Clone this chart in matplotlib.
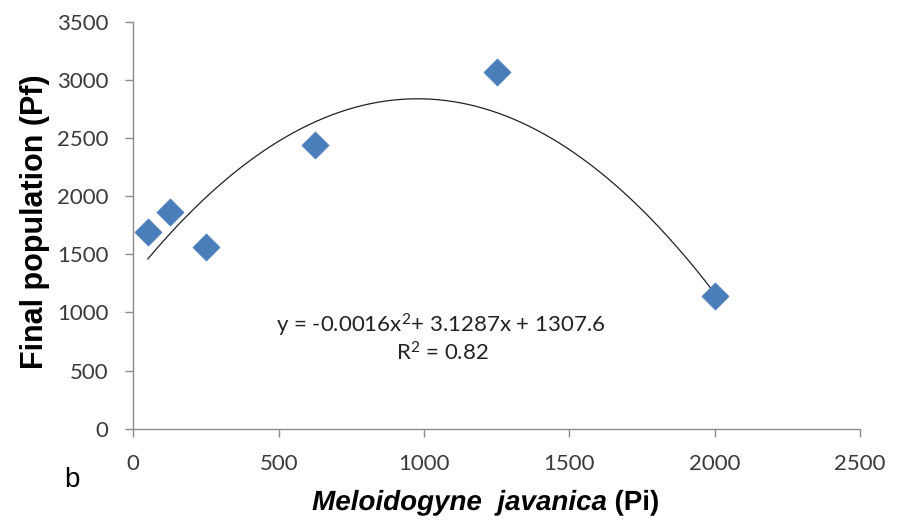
import numpy as np
import matplotlib.pyplot as plt
from matplotlib.font_manager import FontProperties
from matplotlib.textpath import TextPath
from matplotlib.patches import PathPatch
from matplotlib.transforms import Affine2D

plt.rcParams['mathtext.fontset'] = 'custom'
plt.rcParams['mathtext.rm'] = 'Lato'
plt.rcParams['mathtext.it'] = 'Lato:italic'

# Initial inoculum (Pi) and final population (Pf)
pi_values = [50, 125, 250, 625, 1250, 2000]
pf_values = [1690, 1860, 1560, 2440, 3070, 1140]

# Quadratic trend: y = a*x^2 + b*x + c
coef_a, coef_b, coef_c = -0.0016, 3.1287, 1307.6
r_squared = 0.82

x_ticks = [0, 500, 1000, 1500, 2000, 2500]
y_ticks = [0, 500, 1000, 1500, 2000, 2500, 3000, 3500]

W, H = 898, 525
fig = plt.figure(figsize=(W / 100, H / 100), dpi=100)
ax = fig.add_axes([133.3 / W, 1 - 428.7 / H, 726.7 / W, 407 / H])

xs = np.linspace(min(pi_values), max(pi_values), 300)
ax.plot(xs, coef_a * xs**2 + coef_b * xs + coef_c, color='#222222', lw=0.9, zorder=2)
ax.scatter(pi_values, pf_values, marker='D', s=190, color='#4a7ebb',
           edgecolors='#4a7ebb', linewidths=0.5, zorder=3)

ax.set_xlim(0, 2500)
ax.set_ylim(0, 3500)
ax.set_xticks(x_ticks)
ax.set_yticks(y_ticks)

for side in ('top', 'right'):
    ax.spines[side].set_visible(False)
for side in ('left', 'bottom'):
    ax.spines[side].set_color('#8c8c8c')
    ax.spines[side].set_linewidth(1.0)
ax.tick_params(axis='both', colors='#8c8c8c', length=6, width=1.0,
               labelcolor='#3a3a3a', labelsize=16, direction='out')
for lbl in ax.get_xticklabels() + ax.get_yticklabels():
    lbl.set_family('Lato')
ax.tick_params(axis='x', pad=12)
ax.tick_params(axis='y', pad=12)

# y-axis title
fig.text(35 / W, 1 - 222 / H, 'Final population (Pf)', rotation=90,
         ha='center', va='center', family='Liberation Sans', fontweight='bold',
         fontsize=22, color='black')

# x-axis title: italic species name followed by upright "(Pi)"
size_pt = 20
p_it = FontProperties(family='Liberation Sans', weight='bold', style='italic')
p_up = FontProperties(family='Liberation Sans', weight='bold')
tp1 = TextPath((0, 0), 'Meloidogyne  javanica', size=size_pt, prop=p_it)
w1 = tp1.get_extents().x1
gap = 0.3 * size_pt
tp2 = TextPath((w1 + gap, 0), '(Pi)', size=size_pt, prop=p_up)
total_pt = tp2.get_extents().x1
center_px = 485
left_in = (center_px - total_pt * 100 / 72 / 2) / 100
base_in = 15 / 100
tr = Affine2D().scale(1 / 72, 1 / 72).translate(left_in, base_in) + fig.dpi_scale_trans
for tp in (tp1, tp2):
    fig.patches.append(PathPatch(tp, transform=tr, facecolor='black',
                                 edgecolor='none', figure=fig))

# Fitted-equation annotation
fig.text(441 / W, 1 - 325 / H, f'y = {coef_a}x$^2$+ {coef_b}x + {coef_c}',
         ha='center', va='center', fontsize=16, family='Lato', color='#222222')
fig.text(442 / W, 1 - 353 / H, f'R$^2$ = {r_squared}',
         ha='center', va='center', fontsize=16, family='Lato', color='#222222')

fig.text(0.072, 0.072, 'b', fontsize=20, family='Liberation Sans', color='black')

fig.savefig('out.png', dpi=100, facecolor='white')
